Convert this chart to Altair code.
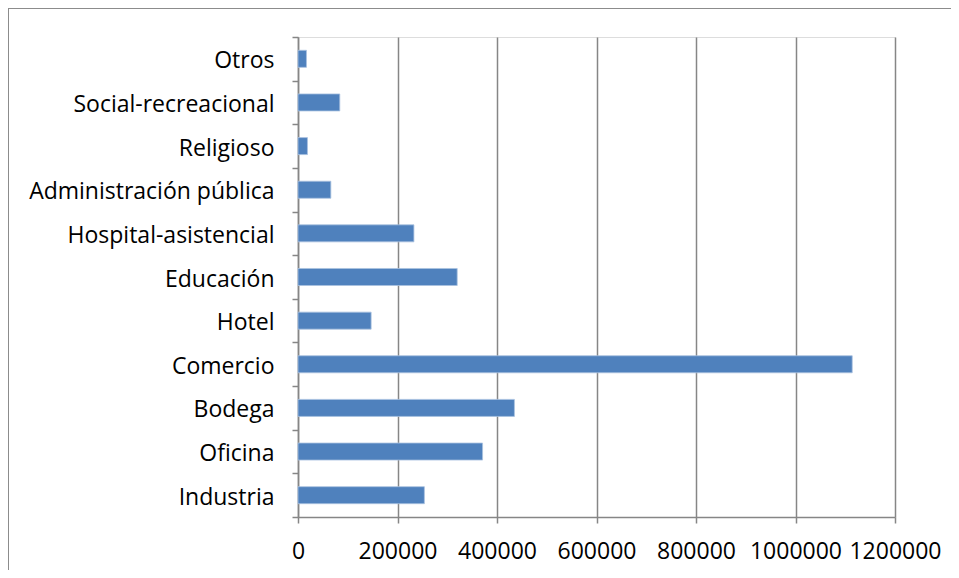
import altair as alt
import pandas as pd

categories = ["Otros", "Social-recreacional", "Religioso", "Administración pública",
              "Hospital-asistencial", "Educación", "Hotel", "Comercio", "Bodega",
              "Oficina", "Industria"]
values = [17000, 84000, 19000, 66000, 233000, 320000, 147000, 1114000, 435000, 371000, 254000]
x_ticks = [0, 200000, 400000, 600000, 800000, 1000000, 1200000]

df = pd.DataFrame({"cat": categories, "val": values})

FONT = "Open Sans"
GRID = "#868686"

bars = alt.Chart(df).mark_bar(color="#4F81BD", stroke="#A9C1E0", strokeWidth=0.8,
                              height={"band": 0.39}).encode(
    y=alt.Y("cat:N", sort=categories, title=None,
            scale=alt.Scale(paddingInner=0, paddingOuter=0),
            axis=alt.Axis(tickBand="extent", labelFontSize=23, labelFont=FONT,
                          labelColor="#000000", tickSize=6, tickColor=GRID, tickWidth=1.5,
                          domainColor=GRID, domainWidth=1.5, labelPadding=18,
                          labelOffset=2, grid=False, labelLimit=400)),
    x=alt.X("val:Q", title=None,
            scale=alt.Scale(domain=[0, 1200000], nice=False),
            axis=alt.Axis(values=x_ticks, format="d", labelFontSize=23, labelFont=FONT,
                          labelColor="#000000", tickSize=6, tickColor=GRID, tickWidth=1.5,
                          domainColor=GRID, domainWidth=1.5, labelPadding=17,
                          grid=True, gridColor=GRID, gridWidth=1.5, labelFlush=False,
                          labelOverlap=False)),
)

frame_top = alt.Chart(df).mark_rule(color="#8c8c8c", strokeWidth=1).encode(
    x=alt.value(-290), x2=alt.value(700), y=alt.value(-28.5))
frame_left = alt.Chart(df).mark_rule(color="#8c8c8c", strokeWidth=1).encode(
    x=alt.value(-289.5), y=alt.value(-29), y2=alt.value(560))

chart = alt.layer(bars, frame_top, frame_left).properties(
    width=597, height=480,
    autosize=alt.AutoSizeParams(type="none"),
    padding={"left": 290, "top": 29, "right": 56, "bottom": 53},
).configure_view(stroke=None).configure(background="white")

chart.save("out.html", embed_options={"renderer": "svg", "actions": False})
